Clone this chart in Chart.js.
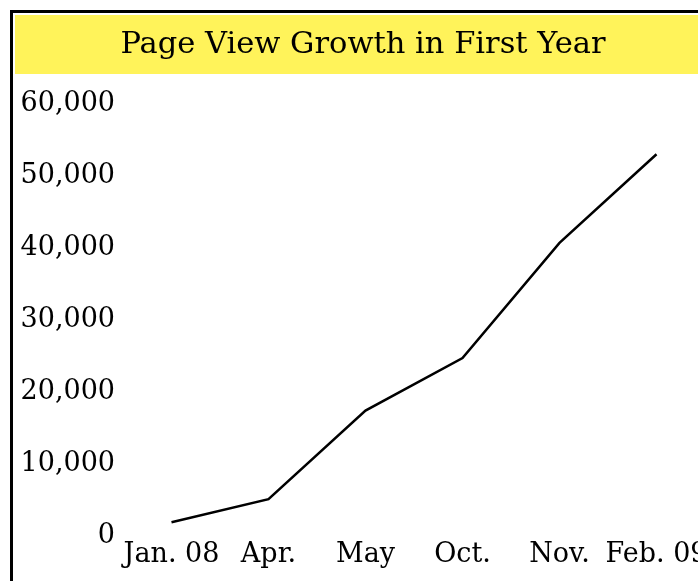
<!DOCTYPE html>
<html>
<head>
<meta charset="utf-8">
<script src="https://cdn.jsdelivr.net/npm/chart.js@4.4.1/dist/chart.umd.min.js"></script>
<style>
    html, body { margin: 0; padding: 0; background: #fff; overflow: hidden; }
    #frame {
        position: absolute; left: 10px; top: 10px;
        width: 720px; height: 600px;
        border: 3px solid #000;
    }
    #pageViews { position: absolute; left: 15px; top: 15px; }
</style>
</head>
<body>
<div id="frame"></div>
<canvas id="pageViews" width="711" height="580"></canvas>
<script>
// Данные графика
const months = ["Jan. 08", "Apr.", "May", "Oct.", "Nov.", "Feb. 09"];
const pageViews = [1500, 4700, 17000, 24300, 40300, 52600];
const yTicks = [0, 10000, 20000, 30000, 40000, 50000, 60000];

const chartFont = "'DejaVu Serif', serif";

// желтая полоса под заголовком
const titleBand = {
    id: "titleBand",
    beforeDraw(chart) {
        const ctx = chart.ctx;
        ctx.save();
        ctx.fillStyle = "#fff35a";
        ctx.fillRect(0, 0, chart.width, 59);
        ctx.restore();
    }
};

const ctx = document.getElementById("pageViews").getContext("2d");

new Chart(ctx, {
    type: "line",
    data: {
        labels: months,
        datasets: [
            {
                label: "Page views",
                data: pageViews,
                borderColor: "#000",
                borderWidth: 2.5,
                pointRadius: 0,
                tension: 0,
                fill: false
            }
        ]
    },
    options: {
        responsive: false,
        devicePixelRatio: 1,
        animation: false,
        layout: { padding: { left: 6, right: 21, top: 0, bottom: 0 } },
        scales: {
            x: {
                offset: true,
                grid: { display: false, drawTicks: false },
                border: { display: false },
                ticks: {
                    color: "#000",
                    padding: 6,
                    maxRotation: 0,
                    autoSkip: false,
                    font: { family: chartFont, size: 27 }
                },
                afterFit(scale) { scale.height = 62; }
            },
            y: {
                min: yTicks[0],
                max: yTicks[yTicks.length - 1],
                grid: { display: false, drawTicks: false },
                border: { display: false },
                afterBuildTicks(scale) { scale.ticks = yTicks.map(v => ({ value: v })); },
                ticks: {
                    color: "#000",
                    padding: 8,
                    labelOffset: 3,
                    font: { family: chartFont, size: 27 },
                    callback: v => v.toLocaleString("en-US")
                },
                afterFit(scale) { scale.width = 102; }
            }
        },
        plugins: {
            legend: { display: false },
            tooltip: { enabled: false },
            title: {
                display: true,
                text: "Page View Growth in First Year",
                color: "#000",
                font: { family: chartFont, size: 30.5, weight: "normal", lineHeight: 1.2 },
                padding: { top: 11.7, bottom: 37.7 }
            }
        }
    },
    plugins: [titleBand]
});
</script>
</body>
</html>
